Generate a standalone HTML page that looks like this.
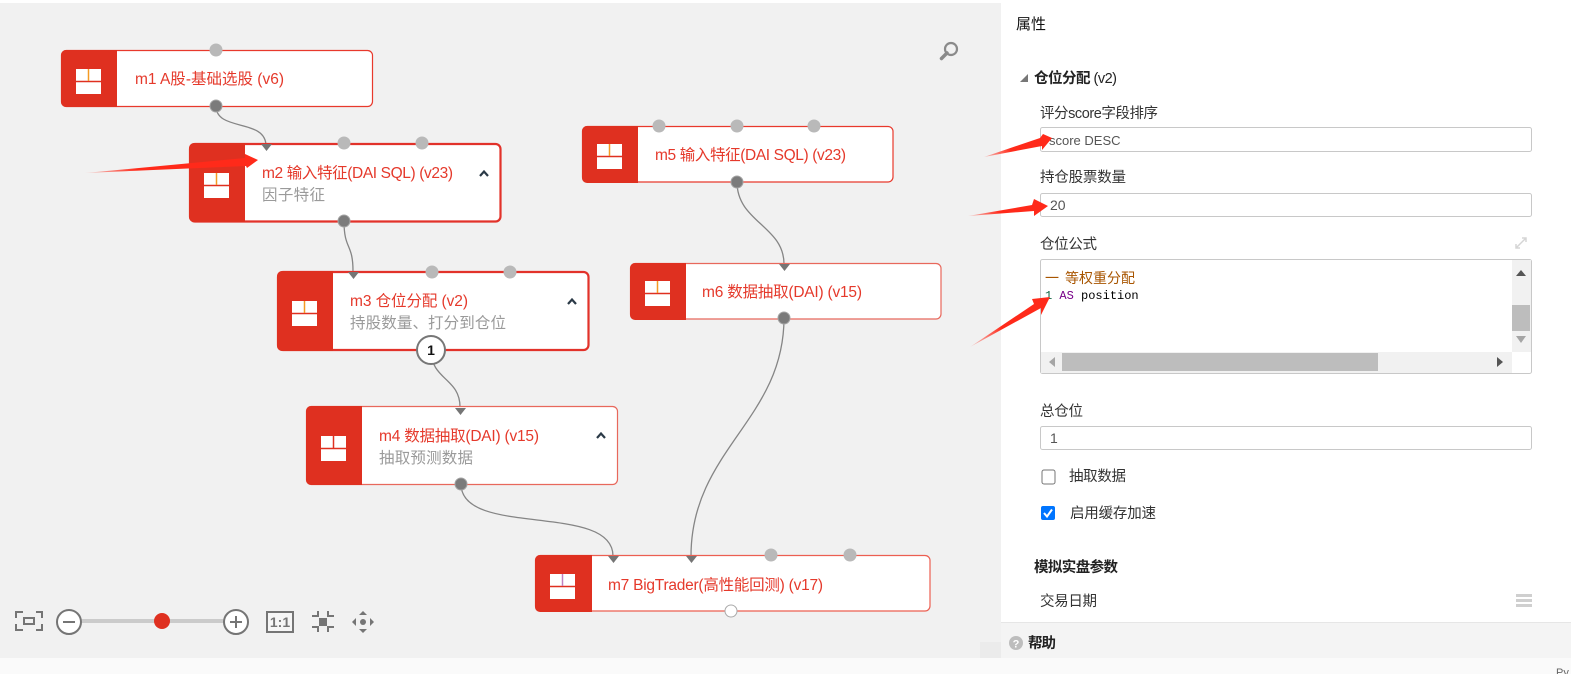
<!DOCTYPE html>
<html><head><meta charset="utf-8"><style>
html,body{margin:0;padding:0;background:#fff}
svg{display:block}
text{font-family:"Liberation Sans","Noto Sans CJK SC",sans-serif}
.t{font-size:15.5px;fill:#e5392b}
.s{font-size:15.5px;fill:#9a9a9a}
.l{font-size:14.5px;fill:#333}
.b{font-size:14.5px;fill:#222;font-weight:bold}
.v{font-size:14px;fill:#555}
.c{fill:none;stroke:#858585;stroke-width:1.3}
.p{fill:#b9b9b9}
.o{fill:#7b7b7b;stroke:#a5a5a5;stroke-width:1}
.i{fill:#757575}
.n{fill:#fff;stroke:#e8392c;stroke-width:1.2}
.n2{fill:#fff;stroke:#e2322a;stroke-width:2.2}
.r{fill:#df3020}
.box{fill:#fff;stroke:#c8c8c8;stroke-width:1}
.ic{fill:none;stroke:#757575;stroke-width:2}
</style></head><body>
<svg width="1571" height="674" viewBox="0 0 1571 674" xmlns="http://www.w3.org/2000/svg">
<defs>
<linearGradient id="g1" gradientUnits="userSpaceOnUse" x1="85" y1="173" x2="258" y2="159"><stop offset="0" stop-color="#ff2a1a" stop-opacity=".15"/><stop offset=".3" stop-color="#ff2a1a"/></linearGradient>
<linearGradient id="g2" gradientUnits="userSpaceOnUse" x1="983" y1="158" x2="1053" y2="137"><stop offset="0" stop-color="#ff2a1a" stop-opacity=".2"/><stop offset=".4" stop-color="#ff2a1a"/></linearGradient>
<linearGradient id="g3" gradientUnits="userSpaceOnUse" x1="968" y1="216" x2="1047" y2="205"><stop offset="0" stop-color="#ff2a1a" stop-opacity=".2"/><stop offset=".4" stop-color="#ff2a1a"/></linearGradient>
<linearGradient id="g4" gradientUnits="userSpaceOnUse" x1="970" y1="347" x2="1049" y2="297"><stop offset="0" stop-color="#ff2a1a" stop-opacity=".15"/><stop offset=".4" stop-color="#ff2a1a"/></linearGradient>
</defs>

<!-- canvas -->
<rect x="0" y="3" width="1001" height="655" fill="#f1f1f1"/>
<rect x="980" y="642" width="21" height="16" fill="#ebebeb"/>
<rect x="0" y="658" width="1571" height="16" fill="#fafafa"/>

<!-- connectors -->
<path class="c" d="M216,106 C216,132 266,118 266,146"/>
<path class="c" d="M344,221 C344,250 353,243 353,271"/>
<path class="c" d="M431,350 C431,380 460,378 460,407"/>
<path class="c" d="M737,182 C737,222 784,226 784,264"/>
<path class="c" d="M784,318 C784,420 691,450 691,556"/>
<path class="c" d="M461,484 C461,538 613,502 613,556"/>

<!-- m1 -->
<rect class="n" x="61.500" y="50.500" width="311" height="56" rx="5"/>
<path class="r" d="M117,50 H66 a5,5 0 0 0 -5,5 V102 a5,5 0 0 0 5,5 H117 Z"/>
<rect x="76" y="69" width="25" height="25" fill="#fff"/><path d="M76,81.500H101" stroke="#df3020" stroke-width="1.500"/><path d="M88.500,69V81" stroke="#f59a23" stroke-width="1.500"/>
<text class="t" x="135" y="84" textLength="149">m1 A股-基础选股 (v6)</text>
<circle class="p" cx="216" cy="50" r="6.500"/><circle class="o" cx="216" cy="106" r="6"/>

<!-- m2 -->
<rect class="n2" x="190" y="144" width="310.500" height="77.500" rx="5"/>
<path class="r" d="M245,143 H194 a5,5 0 0 0 -5,5 V217 a5,5 0 0 0 5,5 H245 Z"/>
<rect x="204" y="173" width="25" height="25" fill="#fff"/><path d="M204,185.500H229" stroke="#df3020" stroke-width="1.500"/><path d="M216.500,173V185" stroke="#f59a23" stroke-width="1.500"/>
<text class="t" x="262" y="178" textLength="191">m2 输入特征(DAI SQL) (v23)</text>
<text class="s" x="262" y="200" textLength="63">因子特征</text>
<path d="M480,176 L484,171.500 L488,176" fill="none" stroke="#2b3a47" stroke-width="2.200"/>
<path class="i" d="M261,144 H272 L266.500,151 Z"/>
<circle class="p" cx="344" cy="143" r="6.500"/><circle class="p" cx="422" cy="143" r="6.500"/><circle class="o" cx="344" cy="221" r="6"/>

<!-- m3 -->
<rect class="n2" x="278" y="272" width="310.500" height="78" rx="5"/>
<path class="r" d="M333,271 H282 a5,5 0 0 0 -5,5 V346 a5,5 0 0 0 5,5 H333 Z"/>
<rect x="292" y="301" width="25" height="25" fill="#fff"/><path d="M292,313.500H317" stroke="#df3020" stroke-width="1.500"/><path d="M304.500,301V313" stroke="#f59a23" stroke-width="1.500"/>
<text class="t" x="350" y="306" textLength="118">m3 仓位分配 (v2)</text>
<text class="s" x="350" y="328" textLength="156">持股数量、打分到仓位</text>
<path d="M568,304 L572,299.500 L576,304" fill="none" stroke="#2b3a47" stroke-width="2.200"/>
<path class="i" d="M348,272 H359 L353.500,279 Z"/>
<circle class="p" cx="432" cy="272" r="6.500"/><circle class="p" cx="510" cy="272" r="6.500"/>
<circle cx="431" cy="350" r="14" fill="#fff" stroke="#777" stroke-width="2"/>
<text x="431" y="355" text-anchor="middle" font-size="14" font-weight="bold" fill="#111">1</text>

<!-- m4 -->
<rect class="n" x="306.500" y="406.500" width="311" height="78" rx="5" style="stroke:#e8685c"/>
<path class="r" d="M362,406 H311 a5,5 0 0 0 -5,5 V480 a5,5 0 0 0 5,5 H362 Z"/>
<rect x="321" y="436" width="25" height="25" fill="#fff"/><path d="M321,448.500H346" stroke="#df3020" stroke-width="1.500"/><path d="M333.500,436V448" stroke="#df3020" stroke-width="1.500"/>
<text class="t" x="379" y="441" textLength="160">m4 数据抽取(DAI) (v15)</text>
<text class="s" x="379" y="463" textLength="94">抽取预测数据</text>
<path d="M597,438 L601,433.500 L605,438" fill="none" stroke="#2b3a47" stroke-width="2.200"/>
<path class="i" d="M455,408 H466 L460.500,415 Z"/>
<circle class="o" cx="461" cy="484" r="6"/>

<!-- m5 -->
<rect class="n" x="582.500" y="126.500" width="310.500" height="55.500" rx="5"/>
<path class="r" d="M638,126 H587 a5,5 0 0 0 -5,5 V178 a5,5 0 0 0 5,5 H638 Z"/>
<rect x="597" y="144" width="25" height="25" fill="#fff"/><path d="M597,156.500H622" stroke="#df3020" stroke-width="1.500"/><path d="M609.500,144V156" stroke="#f59a23" stroke-width="1.500"/>
<text class="t" x="655" y="160" textLength="191">m5 输入特征(DAI SQL) (v23)</text>
<circle class="p" cx="659" cy="126" r="6.500"/><circle class="p" cx="737" cy="126" r="6.500"/><circle class="p" cx="814" cy="126" r="6.500"/><circle class="o" cx="737" cy="182" r="6"/>

<!-- m6 -->
<rect class="n" x="630.500" y="263.500" width="310.500" height="55.500" rx="5" style="stroke:#e8685c"/>
<path class="r" d="M686,263 H635 a5,5 0 0 0 -5,5 V315 a5,5 0 0 0 5,5 H686 Z"/>
<rect x="645" y="281" width="25" height="25" fill="#fff"/><path d="M645,293.500H670" stroke="#df3020" stroke-width="1.500"/><path d="M657.500,281V293" stroke="#f59a23" stroke-width="1.500"/>
<text class="t" x="702" y="297" textLength="160">m6 数据抽取(DAI) (v15)</text>
<path class="i" d="M779,264 H790 L784.500,271 Z"/>
<circle class="o" cx="784" cy="318" r="6"/>

<!-- m7 -->
<rect class="n" x="535.500" y="555.500" width="394.500" height="55.500" rx="5" style="stroke:#ec5f52"/>
<path class="r" d="M592,555 H540 a5,5 0 0 0 -5,5 V607 a5,5 0 0 0 5,5 H592 Z"/>
<rect x="550" y="574" width="25" height="25" fill="#fff"/><path d="M550,586.500H575" stroke="#df3020" stroke-width="1.500"/><path d="M562.500,574V586" stroke="#c080c0" stroke-width="1.500"/>
<text class="t" x="608" y="590" textLength="215">m7 BigTrader(高性能回测) (v17)</text>
<path class="i" d="M608,556 H619 L613.500,563 Z"/><path class="i" d="M686,556 H697 L691.500,563 Z"/>
<circle class="p" cx="771" cy="555" r="6.500"/><circle class="p" cx="850" cy="555" r="6.500"/>
<circle cx="731" cy="611" r="6" fill="#fff" stroke="#aaa" stroke-width="1"/>

<!-- search -->
<circle cx="951" cy="49" r="6" fill="none" stroke="#8a8a8a" stroke-width="2.200"/>
<path d="M947,53 L941.500,58.500" stroke="#8a8a8a" stroke-width="3.500" stroke-linecap="round"/>

<!-- toolbar -->
<path class="ic" d="M16,618V612H23 M36,612H42V618 M16,624V630H23 M36,630H42V624"/>
<rect x="24" y="618" width="10" height="6" fill="none" stroke="#757575" stroke-width="2"/>
<rect x="82" y="619" width="141" height="4" fill="#cbcbcb"/>
<circle cx="69" cy="622" r="12" fill="#fff" stroke="#757575" stroke-width="2"/><path d="M63,622H75" stroke="#757575" stroke-width="2"/>
<circle cx="162" cy="621" r="8" fill="#df3020"/>
<circle cx="236" cy="622" r="12" fill="#fff" stroke="#757575" stroke-width="2"/><path d="M230,622H242M236,616V628" stroke="#757575" stroke-width="2"/>
<rect x="267" y="612" width="26" height="20" fill="#f6f6f6" stroke="#757575" stroke-width="2"/>
<text x="280" y="627" text-anchor="middle" font-size="14" font-weight="bold" fill="#757575">1:1</text>
<path class="ic" d="M318,611V616H312 M328,611V616H334 M318,632V627H312 M328,632V627H334"/>
<rect x="319" y="618" width="8" height="8" fill="#757575"/>
<circle cx="363" cy="622" r="3" fill="#757575"/>
<path class="i" d="M363,611 L367,615 H359 Z M363,633 L367,629 H359 Z M352,622 L356,618 V626 Z M374,622 L370,618 V626 Z"/>

<!-- right panel -->
<rect x="1001" y="0" width="570" height="622" fill="#fff"/>
<rect x="1001" y="622" width="570" height="36" fill="#f4f4f4"/>
<path d="M1001,622.500H1571" stroke="#e6e6e6"/>
<text x="1016" y="29" font-size="15" fill="#111">属性</text>
<path d="M1020,82 L1028,82 L1028,74 Z" fill="#777"/>
<text class="b" x="1034" y="83" textLength="83">仓位分配 <tspan font-weight="normal">(v2)</tspan></text>
<text class="l" x="1040" y="118" textLength="118">评分score字段排序</text>
<rect class="box" x="1040.500" y="127.500" width="491" height="24" rx="2"/>
<text class="v" x="1049" y="145" style="font-size:13px">score DESC</text>
<text class="l" x="1040" y="182" textLength="86">持仓股票数量</text>
<rect class="box" x="1040.500" y="193.500" width="491" height="23" rx="2"/>
<text class="v" x="1050" y="210">20</text>
<text class="l" x="1040" y="249" textLength="57">仓位公式</text>
<path d="M1516,248 L1526,238 M1522,238H1526V242 M1516,244V248H1520" fill="none" stroke="#d5d5d5" stroke-width="1.500"/>

<rect class="box" x="1040.500" y="259.500" width="491" height="114" rx="2"/>
<text x="1045" y="283" font-size="14" fill="#a85500" style="font-family:'Noto Sans CJK SC',sans-serif">一</text>
<text x="1065" y="283" font-size="14" fill="#a85500" style="font-family:'Noto Sans CJK SC',sans-serif">等权重分配</text>
<text x="1045" y="299" font-size="12" style="font-family:'Liberation Mono',monospace"><tspan fill="#116644">1</tspan> <tspan fill="#770088">AS</tspan> <tspan fill="#000">position</tspan></text>
<rect x="1512" y="260" width="19" height="92" fill="#f1f1f1"/>
<rect x="1512" y="305" width="18" height="26" fill="#bdbdbd"/>
<path d="M1516,276 H1526 L1521,270 Z" fill="#555"/>
<path d="M1516,336 H1526 L1521,343 Z" fill="#a5a5a5"/>
<rect x="1041" y="352" width="471" height="21" fill="#f1f1f1"/>
<rect x="1062" y="353" width="316" height="18" fill="#bdbdbd"/>
<path d="M1055,357 V367 L1049,362 Z" fill="#a5a5a5"/>
<path d="M1497,357 V367 L1503,362 Z" fill="#555"/>

<text class="l" x="1040" y="416" textLength="43">总仓位</text>
<rect class="box" x="1040.500" y="426.500" width="491" height="23" rx="2"/>
<text class="v" x="1050" y="443">1</text>
<rect x="1042" y="470" width="13" height="14" rx="2" fill="#fff" stroke="#767676" stroke-width="1"/>
<text class="l" x="1069" y="481" textLength="57">抽取数据</text>
<rect x="1041" y="506" width="14" height="14" rx="2" fill="#0075ff"/>
<path d="M1044,513 L1047,516.500 L1052,509.500" fill="none" stroke="#fff" stroke-width="2"/>
<text class="l" x="1070" y="518" textLength="86">启用缓存加速</text>
<text class="b" x="1034" y="572" textLength="84">模拟实盘参数</text>
<text class="l" x="1040" y="606" textLength="57">交易日期</text>
<path d="M1516,595.500H1532M1516,600.500H1532M1516,605.500H1532" stroke="#cfcfcf" stroke-width="3"/>
<circle cx="1016" cy="643" r="7" fill="#bdbdbd"/>
<text x="1016" y="647.500" text-anchor="middle" font-size="11" font-weight="bold" fill="#fff">?</text>
<text class="b" x="1028" y="648" textLength="28">帮助</text>
<text x="1556" y="676" font-size="11" fill="#666">Py</text>

<!-- red annotation arrows -->
<polygon fill="url(#g1)" points="85,173 245,158 245,154 258,160 247,168 246,166"/>
<polygon fill="url(#g2)" points="984,157 1040,138 1043,134 1052,138 1042,150 1042,146"/>
<polygon fill="url(#g3)" points="968,216 1032,205 1034,199 1048,206 1034,216 1034,211"/>
<polygon fill="url(#g4)" points="970,347 1034,304 1032,299 1050,297 1041,315 1041,308"/>
</svg>
</body></html>
